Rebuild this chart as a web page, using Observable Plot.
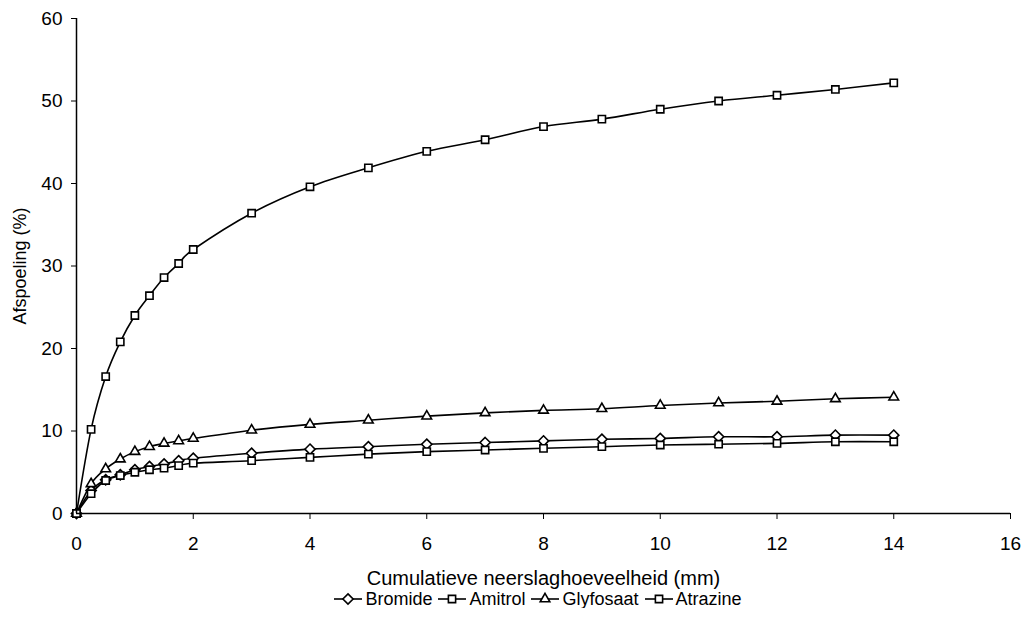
<!DOCTYPE html>
<html>
<head>
<meta charset="utf-8">
<script src="https://cdn.jsdelivr.net/npm/d3@7"></script>
<script src="https://cdn.jsdelivr.net/npm/@observablehq/plot@0.6"></script>
<style>
  html, body { margin: 0; padding: 0; background: #fff; }
  #chart svg { display: block; }
  #chart svg g[aria-label="x-axis label"] text { font-size: 20px; }
  #chart svg g[aria-label="y-axis label"] text { font-size: 18px; }
  #legend { height: 18px; display: flex; justify-content: center; align-items: center;
            font-family: "Liberation Sans", Arial, sans-serif; font-size: 18px; line-height: 18px; color: #000; padding-left: 52px; }
  .item { display: flex; align-items: center; margin: 0 3px; }
  .item svg { margin-right: 3px; }
</style>
</head>
<body>
<div id="chart"></div>
<div id="legend"></div>
<script>
const xValues = [0, 0.25, 0.5, 0.75, 1, 1.25, 1.5, 1.75, 2, 3, 4, 5, 6, 7, 8, 9, 10, 11, 12, 13, 14];
const bromide   = [0, 2.8, 4.1, 4.7, 5.3, 5.7, 6.0, 6.4, 6.7, 7.3, 7.8, 8.1, 8.4, 8.6, 8.8, 9.0, 9.1, 9.3, 9.3, 9.5, 9.5];
const amitrol   = [0, 10.2, 16.6, 20.8, 24.0, 26.4, 28.6, 30.3, 32.0, 36.4, 39.6, 41.9, 43.9, 45.3, 46.9, 47.8, 49.0, 50.0, 50.7, 51.4, 52.2];
const glyfosaat = [0, 3.6, 5.4, 6.6, 7.5, 8.1, 8.5, 8.8, 9.1, 10.1, 10.8, 11.3, 11.8, 12.2, 12.5, 12.7, 13.1, 13.4, 13.6, 13.9, 14.1];
const atrazine  = [0, 2.4, 4.0, 4.6, 5.0, 5.3, 5.5, 5.8, 6.1, 6.4, 6.8, 7.2, 7.5, 7.7, 7.9, 8.1, 8.3, 8.4, 8.5, 8.7, 8.7];
const seriesNames = ["Bromide", "Amitrol", "Glyfosaat", "Atrazine"];
const seriesValues = [bromide, amitrol, glyfosaat, atrazine];
const seriesSymbols = ["diamond2", "square2", "triangle2", "square2"];
const xTicks = [0, 2, 4, 6, 8, 10, 12, 14, 16];
const yTicks = [0, 10, 20, 30, 40, 50, 60];

const marks = [];
seriesNames.forEach((name, i) => {
  const data = xValues.map((x, j) => ({x, y: seriesValues[i][j], series: name}));
  marks.push(Plot.line(data, {x: "x", y: "y", stroke: "black", strokeWidth: 1.6, curve: "cardinal"}));
  marks.push(Plot.dot(data, {x: "x", y: "y", symbol: () => seriesSymbols[i], r: 4.6, stroke: "black", strokeWidth: 1.6, fill: "white"}));
});
marks.push(Plot.ruleX([0], {stroke: "black", strokeWidth: 1.5}));
marks.push(Plot.ruleY([0], {stroke: "black", strokeWidth: 1.5}));

const chart = Plot.plot({
  width: 1024,
  height: 590,
  marginLeft: 76,
  marginRight: 14,
  marginTop: 18,
  marginBottom: 77,
  style: {fontFamily: "Liberation Sans, Arial, sans-serif", fontSize: "19px", color: "black", background: "white"},
  x: {domain: [0, 16], ticks: xTicks, tickSize: 6, tickPadding: 17, label: "Cumulatieve neerslaghoeveelheid (mm)", labelArrow: "none", labelAnchor: "center", labelOffset: 71, tickFormat: d => String(d)},
  y: {domain: [0, 60], ticks: yTicks, tickSize: 5, tickPadding: 9, label: "Afspoeling (%)", labelArrow: "none", labelAnchor: "center", labelOffset: 63, tickFormat: d => String(d)},
  symbol: {type: "identity"},
  marks
});
document.getElementById("chart").appendChild(chart);

// legend
const legend = document.getElementById("legend");
const d3Sym = {diamond2: d3.symbolDiamond2, square2: d3.symbolSquare2, triangle2: d3.symbolTriangle2};
seriesNames.forEach((name, i) => {
  const item = document.createElement("div");
  item.className = "item";
  const sym = d3.symbol(d3Sym[seriesSymbols[i]], 4.6 * 4.6 * Math.PI)();
  item.innerHTML = `<svg width="28" height="16" viewBox="-14 -8 28 16"><line x1="-14" x2="14" stroke="black" stroke-width="1.6"/><path d="${sym}" fill="white" stroke="black" stroke-width="1.6"/></svg><span>${name}</span>`;
  legend.appendChild(item);
});
</script>
</body>
</html>
